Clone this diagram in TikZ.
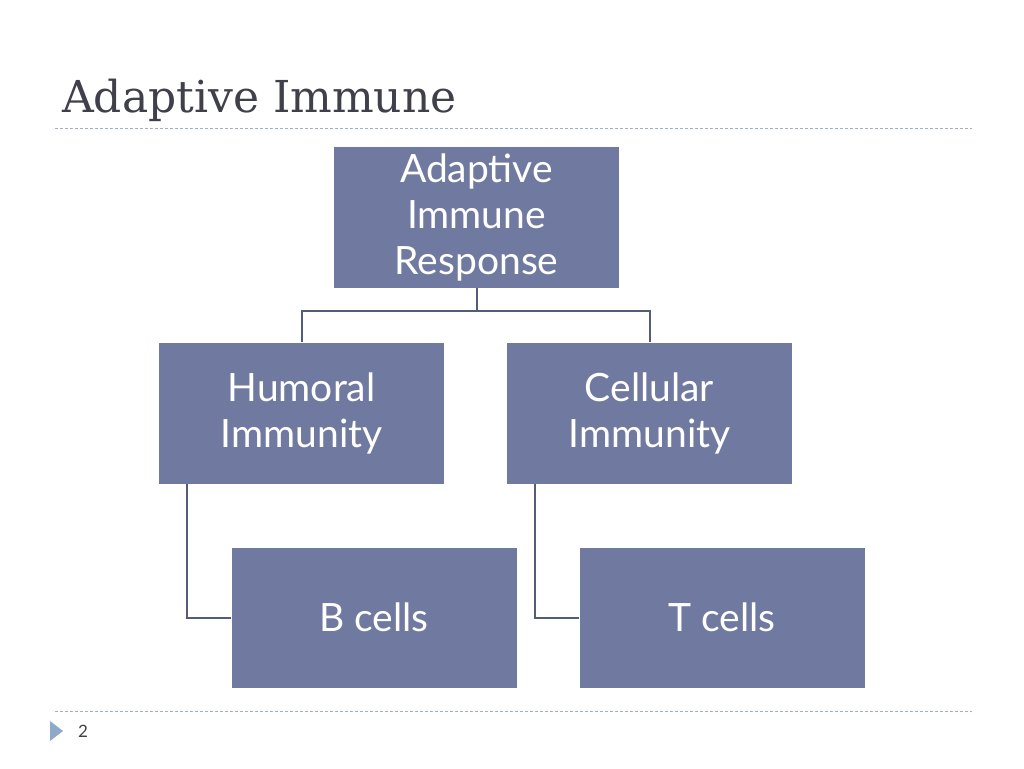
\documentclass[tikz,border=0pt]{standalone}
\usepackage{fontspec}
\setmainfont{Lato}
\newfontfamily\titlefont{DejaVu Serif}
\definecolor{boxfill}{RGB}{112,122,161}
\definecolor{linecol}{RGB}{84,92,120}
\definecolor{titlecol}{RGB}{64,64,74}
\definecolor{dashcol}{RGB}{160,176,192}
\definecolor{tricol}{RGB}{143,169,200}
\begin{document}
\begin{tikzpicture}[x=1pt,y=-1pt,
  boxnode/.style={fill=boxfill,draw=none,minimum width=285pt,minimum height=141pt,
    inner sep=0pt,text=white,align=center,font=\fontsize{39}{46}\selectfont},
  conn/.style={draw=linecol,line width=2pt},
  sep/.style={draw=dashcol,line width=0.8pt,dash pattern=on 3pt off 2pt}]
\useasboundingbox (0,0) rectangle (1024,768);
\fill[white] (0,0) rectangle (1024,768);
\node[anchor=base west,text=titlecol,font=\titlefont\fontsize{44}{50}\selectfont,inner sep=0pt] (title) at (62,112) {Adaptive Immune};
\coordinate (d1a) at (55,128); \coordinate (d1b) at (972,128);
\coordinate (d2a) at (55,711); \coordinate (d2b) at (972,711);
\draw[sep] (d1a) -- (d1b);
\draw[sep] (d2a) -- (d2b);
\node[boxnode] (top) at (476.5,217.5) {Adaptive\\Immune\\Response};
\node[boxnode] (hum) at (301.5,413) {Humoral\\Immunity};
\node[boxnode] (cel) at (649.5,413) {Cellular\\Immunity};
\node[boxnode,minimum height=140pt] (bc) at (374,617.5) {B cells};
\node[boxnode,minimum height=140pt] (tc) at (722,617.5) {T cells};
\draw[conn] (top.south) -- ++(0,23) -| (hum.north);
\draw[conn] (top.south) -- ++(0,23) -| (cel.north);
\draw[conn] (hum.south west) ++(28,0) coordinate (hs) |- (bc.west);
\draw[conn] (cel.south west) ++(28,0) coordinate (cs) |- (tc.west);
\fill[tricol] (50,721) -- (63,731) -- (50,741) -- cycle;
\node[anchor=base west,inner sep=0pt,text=titlecol,font=\fontsize{17}{20}\selectfont] (pg) at (78,737) {2};
\end{tikzpicture}
\end{document}
